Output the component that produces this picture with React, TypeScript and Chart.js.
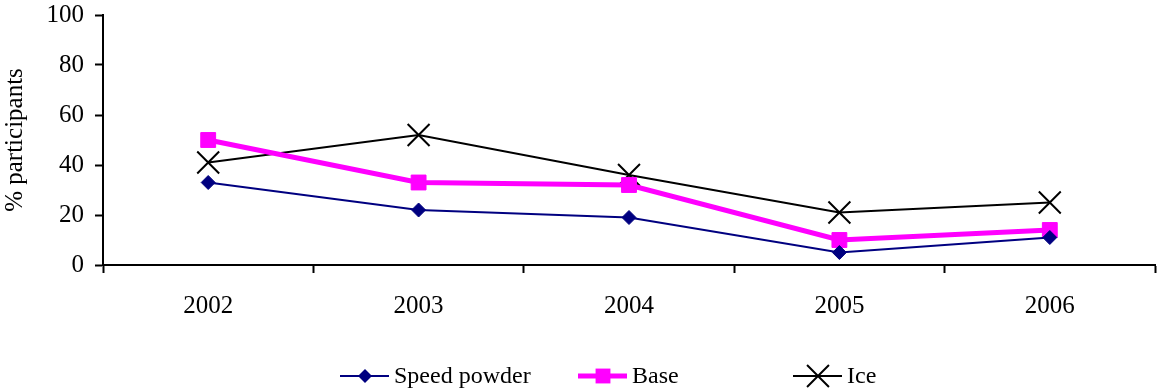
import React, { useEffect, useRef } from "react";
import { Chart, registerables } from "chart.js";

Chart.register(...registerables);

const years = ["2002", "2003", "2004", "2005", "2006"];
const speedPowder = [33, 22, 19, 5, 11];
const base = [50, 33, 32, 10, 14];
const ice = [41, 52, 36, 21, 25];

const FONT = "'Liberation Serif', 'DejaVu Serif', serif";

function drawPoint(ctx: CanvasRenderingContext2D, ds: any, cx: number, cy: number) {
  const r = ds.pointRadius;
  ctx.save();
  ctx.fillStyle = ds.pointBackgroundColor;
  ctx.strokeStyle = ds.pointBorderColor;
  ctx.lineWidth = ds.pointBorderWidth;
  if (ds.pointStyle === "rectRot") {
    ctx.beginPath();
    ctx.moveTo(cx, cy - r);
    ctx.lineTo(cx + r, cy);
    ctx.lineTo(cx, cy + r);
    ctx.lineTo(cx - r, cy);
    ctx.closePath();
    ctx.fill();
  } else if (ds.pointStyle === "rect") {
    const s = r * Math.SQRT2;
    ctx.fillRect(cx - s / 2, cy - s / 2, s, s);
  } else if (ds.pointStyle === "crossRot") {
    const d = r * Math.cos(Math.PI / 4);
    ctx.beginPath();
    ctx.moveTo(cx - d, cy - d);
    ctx.lineTo(cx + d, cy + d);
    ctx.moveTo(cx - d, cy + d);
    ctx.lineTo(cx + d, cy - d);
    ctx.stroke();
  }
  ctx.restore();
}

const legendPlugin = {
  id: "customLegend",
  afterDraw(chart: any) {
    const ctx = chart.ctx;
    const starts = [340, 578, 793];
    const y = 376;
    ctx.save();
    chart.data.datasets.forEach((ds: any, i: number) => {
      const x = starts[i];
      ctx.strokeStyle = ds.borderColor;
      ctx.lineWidth = ds.borderWidth;
      ctx.beginPath();
      ctx.moveTo(x, y);
      ctx.lineTo(x + 49, y);
      ctx.stroke();
      drawPoint(ctx, ds, x + 25, y);
      ctx.fillStyle = "#000";
      ctx.font = `24px ${FONT}`;
      ctx.textBaseline = "middle";
      ctx.textAlign = "left";
      ctx.fillText(ds.label, x + 54, y + 1);
    });
    ctx.restore();
  },
};

export default function App() {
  const ref = useRef<HTMLCanvasElement>(null);
  useEffect(() => {
    const chart = new Chart(ref.current!, {
      type: "line",
      data: {
        labels: years,
        datasets: [
          {
            label: "Speed powder",
            data: speedPowder,
            borderColor: "#000080",
            backgroundColor: "#000080",
            borderWidth: 2,
            pointStyle: "rectRot",
            pointRadius: 7,
            pointBackgroundColor: "#000080",
            pointBorderColor: "#000080",
            pointBorderWidth: 1,
          },
          {
            label: "Base",
            data: base,
            borderColor: "#FF00FF",
            backgroundColor: "#FF00FF",
            borderWidth: 5,
            pointStyle: "rect",
            pointRadius: 10.5,
            pointBackgroundColor: "#FF00FF",
            pointBorderColor: "#FF00FF",
            pointBorderWidth: 1,
          },
          {
            label: "Ice",
            data: ice,
            borderColor: "#000000",
            backgroundColor: "#000000",
            borderWidth: 2,
            pointStyle: "crossRot",
            pointRadius: 15.5,
            pointBackgroundColor: "#000000",
            pointBorderColor: "#000000",
            pointBorderWidth: 2,
          },
        ] as any,
      },
      options: {
        animation: false,
        responsive: false,
        maintainAspectRatio: false,
        layout: { autoPadding: false, padding: { left: 0, top: 15, right: 2, bottom: 0 } },
        plugins: {
          legend: { display: false },
          tooltip: { enabled: false },
        },
        elements: { line: { tension: 0 } },
        scales: {
          x: {
            offset: true,
            grid: {
              offset: true,
              drawOnChartArea: false,
              drawTicks: true,
              tickLength: 8,
              tickColor: "#000",
              tickWidth: 2,
            },
            border: { color: "#000", width: 2 },
            ticks: {
              color: "#000",
              font: { family: FONT, size: 25 },
              padding: 18,
            },
            afterFit(scale: any) {
              scale.height = 124;
              scale.paddingLeft = 0;
              scale.paddingRight = 0;
            },
          },
          y: {
            min: 0,
            max: 100,
            grid: {
              drawOnChartArea: false,
              tickLength: 8,
              tickColor: "#000",
              tickWidth: 2,
            },
            border: { color: "#000", width: 2 },
            ticks: {
              stepSize: 20,
              color: "#000",
              font: { family: FONT, size: 25 },
              padding: 11,
            },
            title: {
              display: true,
              text: "% participants",
              color: "#000",
              font: { family: FONT, size: 25 },
              padding: { top: 0, bottom: 0 },
            },
            afterFit(scale: any) {
              scale.width = 103;
              scale.paddingTop = 0;
              scale.paddingBottom = 0;
            },
          },
        },
      },
      plugins: [legendPlugin],
    });
    return () => chart.destroy();
  }, []);
  return (
    <div style={{ position: "absolute", left: 0, top: 0, width: 1157, height: 389, background: "#fff" }}>
      <canvas ref={ref} width={1157} height={389} />
    </div>
  );
}
